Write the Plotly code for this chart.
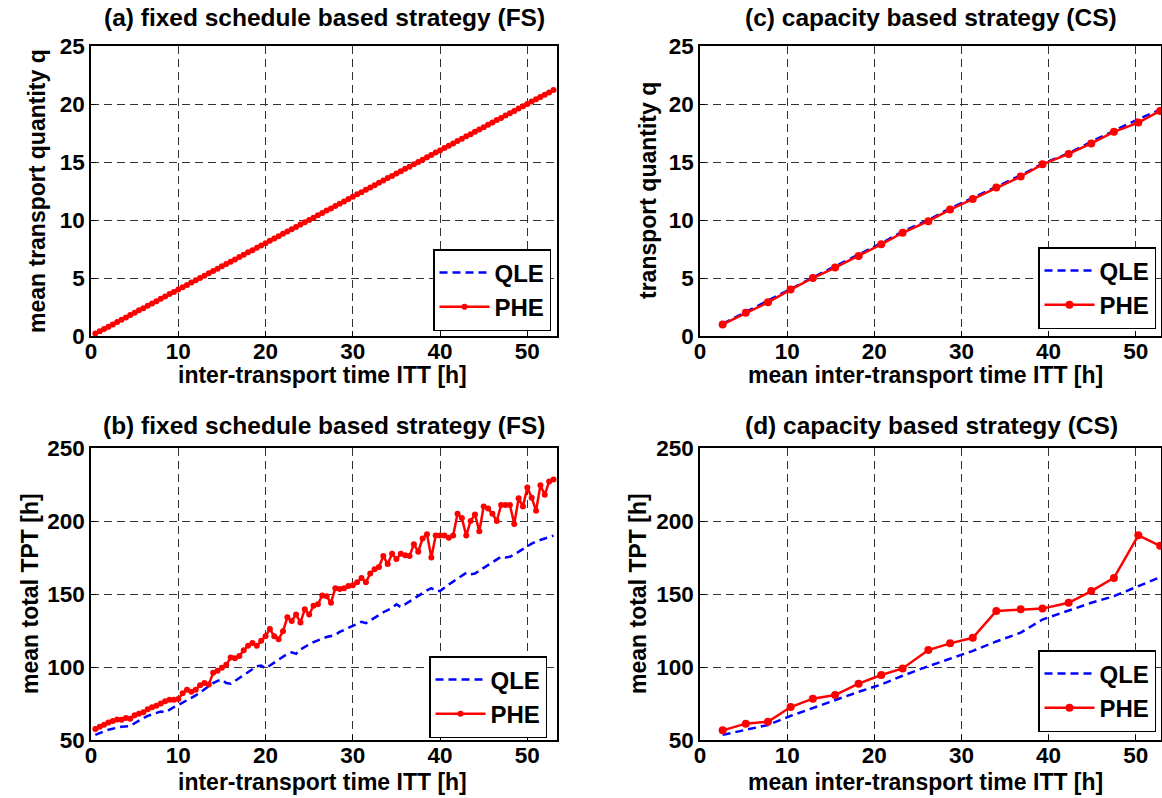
import plotly.graph_objects as go

# ---------------- data ----------------
# (a)/(b) fixed schedule based strategy: inter-transport time ITT [h]
itt_fs = [0.5, 1.0, 1.5, 2.0, 2.5, 3.0, 3.5, 4.0, 4.5, 5.0,
          5.5, 6.0, 6.5, 7.0, 7.5, 8.0, 8.5, 9.0, 9.5, 10.0,
          10.5, 11.0, 11.5, 12.0, 12.5, 13.0, 13.5, 14.0, 14.5, 15.0,
          15.5, 16.0, 16.5, 17.0, 17.5, 18.0, 18.5, 19.0, 19.5, 20.0,
          20.5, 21.0, 21.5, 22.0, 22.5, 23.0, 23.5, 24.0, 24.5, 25.0,
          25.5, 26.0, 26.5, 27.0, 27.5, 28.0, 28.5, 29.0, 29.5, 30.0,
          30.5, 31.0, 31.5, 32.0, 32.5, 33.0, 33.5, 34.0, 34.5, 35.0,
          35.5, 36.0, 36.5, 37.0, 37.5, 38.0, 38.5, 39.0, 39.5, 40.0,
          40.5, 41.0, 41.5, 42.0, 42.5, 43.0, 43.5, 44.0, 44.5, 45.0,
          45.5, 46.0, 46.5, 47.0, 47.5, 48.0, 48.5, 49.0, 49.5, 50.0,
          50.5, 51.0, 51.5, 52.0, 52.5, 53.0]

q_fs_qle = [0.20, 0.40, 0.60, 0.80, 1.00, 1.20, 1.40, 1.60, 1.80, 2.00,
            2.20, 2.40, 2.60, 2.80, 3.00, 3.20, 3.40, 3.60, 3.80, 4.00,
            4.20, 4.40, 4.60, 4.80, 5.00, 5.20, 5.40, 5.60, 5.80, 6.00,
            6.20, 6.40, 6.60, 6.80, 7.00, 7.20, 7.40, 7.60, 7.80, 8.00,
            8.20, 8.40, 8.60, 8.80, 9.00, 9.20, 9.40, 9.60, 9.80, 10.00,
            10.20, 10.40, 10.60, 10.80, 11.00, 11.20, 11.40, 11.60, 11.80, 12.00,
            12.20, 12.40, 12.60, 12.80, 13.00, 13.20, 13.40, 13.60, 13.80, 14.00,
            14.20, 14.40, 14.60, 14.80, 15.00, 15.20, 15.40, 15.60, 15.80, 16.00,
            16.20, 16.40, 16.60, 16.80, 17.00, 17.20, 17.40, 17.60, 17.80, 18.00,
            18.20, 18.40, 18.60, 18.80, 19.00, 19.20, 19.40, 19.60, 19.85, 20.05,
            20.25, 20.45, 20.65, 20.85, 21.05, 21.25]

q_fs_phe = [0.21, 0.40, 0.61, 0.80, 1.00, 1.21, 1.40, 1.60, 1.81, 2.00,
            2.21, 2.40, 2.60, 2.81, 3.00, 3.21, 3.40, 3.61, 3.80, 4.00,
            4.21, 4.40, 4.61, 4.80, 5.01, 5.20, 5.41, 5.60, 5.80, 6.01,
            6.20, 6.41, 6.60, 6.81, 7.00, 7.21, 7.40, 7.60, 7.81, 8.00,
            8.21, 8.40, 8.60, 8.81, 9.00, 9.21, 9.40, 9.61, 9.80, 10.01,
            10.20, 10.41, 10.60, 10.81, 11.00, 11.20, 11.41, 11.60, 11.81, 12.00,
            12.21, 12.40, 12.60, 12.81, 13.00, 13.21, 13.40, 13.61, 13.80, 14.01,
            14.20, 14.41, 14.60, 14.80, 15.01, 15.20, 15.41, 15.60, 15.81, 16.00,
            16.21, 16.40, 16.60, 16.81, 17.00, 17.21, 17.40, 17.61, 17.80, 18.00,
            18.21, 18.40, 18.61, 18.80, 19.00, 19.21, 19.40, 19.61, 19.80, 20.00,
            20.21, 20.40, 20.61, 20.80, 21.00, 21.21]

tpt_fs_qle = [53.5, 55, 56, 57, 58, 58.5, 59, 59.2, 59.6, 61.5,
              63.5, 65, 66.5, 67.5, 68, 69.5, 69, 71, 72.5, 74,
              75.5, 77.5, 79, 80.5, 82.5, 85, 87, 89, 90.5, 91.4,
              89, 88.5, 90.5, 92.5, 94.5, 96.5, 98.5, 100.5, 101, 99,
              101, 103, 105, 107.5, 109, 110, 109, 112, 114, 115.5,
              117, 118.5, 119.5, 120.5, 121, 122, 124, 125.5, 127, 128.5,
              130, 131, 130, 132, 134, 136, 137.5, 139, 140.5, 143,
              141, 143, 145, 147, 148.5, 150.5, 152.5, 154, 152, 152,
              154.5, 156.5, 158.5, 160.5, 162.5, 164.5, 163.5, 164, 166, 168,
              170, 172, 174, 175.5, 175, 175.5, 177, 179, 180.5, 182.5,
              184.5, 186, 187, 188, 189, 190]

tpt_fs_phe = [57.5, 59, 60.5, 62, 63, 64, 63.8, 65, 64.5, 67,
              68, 69, 71, 72.5, 73.5, 75, 76.5, 77.5, 77.5, 78,
              82, 84.5, 83, 84.5, 87.5, 89, 88, 96, 97.5, 99.5,
              101.5, 106.5, 106, 107.5, 111.5, 114.5, 116.5, 114.5, 118, 121,
              126, 121, 119, 124.5, 134, 131.5, 136, 130.5, 139.5, 136,
              142, 143, 149, 148.5, 144, 154, 153.5, 154, 155.5, 156,
              158, 161, 158, 164, 167, 168.5, 176, 170.5, 177.5, 174,
              177.5, 176.5, 176, 184, 179, 188, 191, 175, 190, 190,
              190, 188.5, 190, 205, 202, 190, 200, 204.5, 193, 210,
              208.5, 205, 200, 211, 211, 211, 198, 215.5, 210, 223,
              216, 207, 224.5, 218, 227, 228.5]

# (c)/(d) capacity based strategy: mean inter-transport time ITT [h]
itt_cs = [2.6, 5.25, 7.8, 10.4, 12.95, 15.5, 18.2, 20.8, 23.25, 26.2,
          28.7, 31.3, 34.0, 36.8, 39.3, 42.3, 44.9, 47.5, 50.3, 52.8]

q_cs_qle = [1.05, 2.05, 3.05, 4.05, 5.05, 6.0, 7.0, 8.0, 9.0, 10.0,
            11.0, 11.9, 12.85, 13.85, 14.85, 15.75, 16.75, 17.7, 18.7, 19.5]

q_cs_phe = [1.0, 2.0, 2.9, 4.0, 5.0, 5.9, 6.9, 7.9, 8.9, 9.9,
            10.9, 11.8, 12.8, 13.75, 14.8, 15.7, 16.6, 17.6, 18.4, 19.4]

tpt_cs_qle = [53.5, 57, 60.3, 66.5, 72, 77.5, 83, 88, 94, 100.5,
              105.5, 111, 117.5, 123.5, 132.5, 138.5, 144, 148.5, 155.5, 161.5]

tpt_cs_phe = [56.6, 61.2, 62.5, 72.6, 78.3, 80.8, 88.6, 94.5, 99, 111.6,
              116.2, 120, 138.4, 139.5, 140, 144, 152, 161, 190.2, 183]

# ---------------- figure ----------------
W, H = 1162, 798
FONT = "Liberation Sans"
BLUE = "#0000ff"
RED = "#ff0000"

fig = go.Figure()

panels = [
    ("x", "y", "legend", itt_fs, q_fs_qle, q_fs_phe, 6),
    ("x2", "y2", "legend2", itt_cs, q_cs_qle, q_cs_phe, 8),
    ("x3", "y3", "legend3", itt_fs, tpt_fs_qle, tpt_fs_phe, 6),
    ("x4", "y4", "legend4", itt_cs, tpt_cs_qle, tpt_cs_phe, 8),
]

for xa, ya, lg, xs, qle, phe, ms in panels:
    fig.add_trace(go.Scatter(x=xs, y=qle, mode="lines", name="QLE",
                             line=dict(color=BLUE, width=2.5, dash="8px,5px"),
                             xaxis=xa, yaxis=ya, legend=lg))
    fig.add_trace(go.Scatter(x=xs, y=phe, mode="lines+markers", name="PHE",
                             line=dict(color=RED, width=2.5),
                             marker=dict(color=RED, size=ms),
                             xaxis=xa, yaxis=ya, legend=lg))


def px_x(p):
    return p / W


def px_y(p):
    return 1 - p / H


xl = [px_x(91), px_x(557)]
xr = [px_x(700), px_x(1161)]
yt = [px_y(336), px_y(46)]
yb = [px_y(740), px_y(448)]

tickfont = dict(family=FONT, size=22.5, color="black", weight="bold")
axis_common = dict(showline=True, linecolor="black", linewidth=1.5, mirror=True,
                   ticks="inside", ticklen=5, tickcolor="black",
                   showgrid=True, gridcolor="#333333", gridwidth=1, griddash="8px,5px",
                   zeroline=False, tickfont=tickfont, automargin=False)
xaxis_extra = dict(ticklabelstandoff=-6)

xt = [0, 10, 20, 30, 40, 50]
fig.update_layout(
    width=W, height=H,
    margin=dict(l=0, r=0, t=0, b=0, autoexpand=False),
    paper_bgcolor="white", plot_bgcolor="white",
    font=dict(family=FONT, size=22, color="black"),
    showlegend=True,
    xaxis=dict(domain=xl, anchor="y", range=[0, 53.4], tickvals=xt, **axis_common, **xaxis_extra),
    yaxis=dict(domain=yt, anchor="x", range=[0, 25], tickvals=[0, 5, 10, 15, 20, 25], **axis_common),
    xaxis2=dict(domain=xr, anchor="y2", range=[0, 52.9], tickvals=xt, **axis_common, **xaxis_extra),
    yaxis2=dict(domain=yt, anchor="x2", range=[0, 25], tickvals=[0, 5, 10, 15, 20, 25], **axis_common),
    xaxis3=dict(domain=xl, anchor="y3", range=[0, 53.4], tickvals=xt, **axis_common, **xaxis_extra),
    yaxis3=dict(domain=yb, anchor="x3", range=[50, 250], tickvals=[50, 100, 150, 200, 250], **axis_common),
    xaxis4=dict(domain=xr, anchor="y4", range=[0, 52.9], tickvals=xt, **axis_common, **xaxis_extra),
    yaxis4=dict(domain=yb, anchor="x4", range=[50, 250], tickvals=[50, 100, 150, 200, 250], **axis_common),
)

legend_common = dict(bgcolor="white", bordercolor="black", borderwidth=1.5,
                     font=dict(family=FONT, size=24, color="black", weight="bold"),
                     xanchor="right", yanchor="bottom", tracegroupgap=0,
                     itemwidth=50)
fig.update_layout(
    legend=dict(x=px_x(551), y=px_y(331), **legend_common),
    legend2=dict(x=px_x(1156), y=px_y(329), **legend_common),
    legend3=dict(x=px_x(547), y=px_y(738), **legend_common),
    legend4=dict(x=px_x(1156), y=px_y(732), **legend_common),
)

# panel titles
titles = [
    ("(a) fixed schedule based strategy (FS)", 324, 18),
    ("(c) capacity based strategy (CS)", 931, 18),
    ("(b) fixed schedule based strategy (FS)", 324, 425),
    ("(d) capacity based strategy (CS)", 931, 425),
]
for text, cx, cy in titles:
    fig.add_annotation(text="<b>" + text + "</b>", x=px_x(cx), y=px_y(cy),
                       xref="paper", yref="paper", xanchor="center", yanchor="middle",
                       showarrow=False, font=dict(family=FONT, size=24.5, color="black"))

# axis titles
xtitles = [
    ("inter-transport time ITT [h]", 322, 375),
    ("mean inter-transport time ITT [h]", 925, 375),
    ("inter-transport time ITT [h]", 322, 782),
    ("mean inter-transport time ITT [h]", 925, 782),
]
for text, cx, cy in xtitles:
    fig.add_annotation(text="<b>" + text + "</b>", x=px_x(cx), y=px_y(cy),
                       xref="paper", yref="paper", xanchor="center", yanchor="middle",
                       showarrow=False, font=dict(family=FONT, size=23, color="black"))

ytitles = [
    ("mean transport quantity q", 37, 191),
    ("transport quantity q", 648, 191),
    ("mean total TPT [h]", 30, 594),
    ("mean total TPT [h]", 638, 594),
]
for text, cx, cy in ytitles:
    fig.add_annotation(text="<b>" + text + "</b>", x=px_x(cx), y=px_y(cy),
                       xref="paper", yref="paper", xanchor="center", yanchor="middle",
                       textangle=-90, showarrow=False,
                       font=dict(family=FONT, size=23, color="black"))

fig.write_html("out.html",
               config={"displayModeBar": False},
               post_script="document.body.style.margin='0px';"
                           "document.documentElement.style.overflow='hidden';"
                           "document.body.style.overflow='hidden';")
